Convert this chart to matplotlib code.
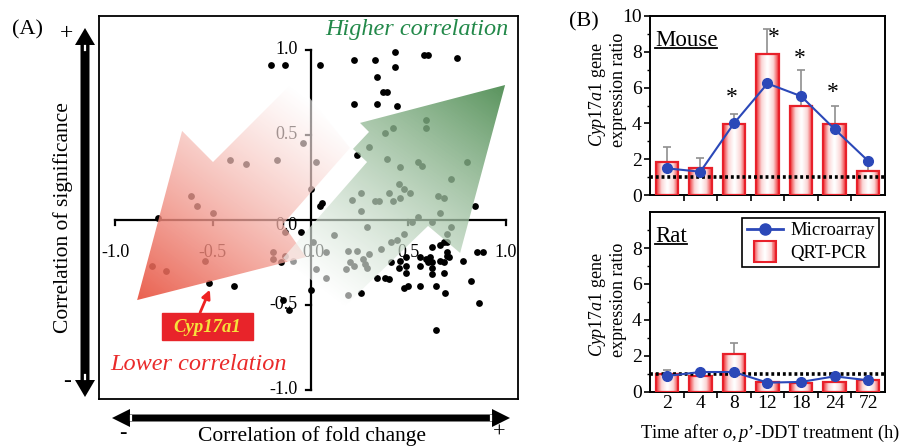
import numpy as np
import matplotlib
matplotlib.use('Agg')
import matplotlib.pyplot as plt
from matplotlib.colors import LinearSegmentedColormap, to_rgb
from matplotlib.patches import Polygon, Rectangle
from matplotlib.transforms import Affine2D, IdentityTransform
from matplotlib.legend_handler import HandlerBase
from matplotlib.lines import Line2D

plt.rcParams['font.family'] = ['Liberation Serif', 'DejaVu Serif']
plt.rcParams['mathtext.fontset'] = 'custom'
plt.rcParams['mathtext.rm'] = 'Liberation Serif'
plt.rcParams['mathtext.it'] = 'Liberation Serif:italic'

# ---- panel A data: correlation of fold change (x) vs correlation of significance (y)
fold_corr = [
    -0.20, -0.13, 0.05, 0.22, 0.33, 0.43, 0.43, 0.34, 0.58, 0.60, 0.75, 0.37, 0.39, 0.22, 0.34,
    0.44, 0.24, 0.00, 0.06, 0.05, 0.84, -0.78, -0.13, -0.15, -0.09, -0.52, -0.39, -0.14, -0.11,
    0.00, 0.26, 0.34, 0.38, 0.40, 0.46, 0.49, 0.45, 0.49, 0.49, 0.48, 0.50, 0.56, 0.56, 0.59,
    0.61, 0.60, 0.62, 0.62, 0.66, 0.68, 0.70, 0.66, 0.68, 0.70, 0.71, 0.78, 0.62, 0.68, 0.62,
    0.56, 0.64, 0.69, 0.82, 0.85, 0.88, 0.86, 0.64,
    -0.41, -0.33, -0.17, -0.04, 0.03, -0.61, -0.58, -0.50, -0.81, -0.74, -0.54, -0.19, -0.13,
    -0.19, -0.05, 0.59, 0.59, 0.42, 0.38, 0.30, 0.39, 0.46, 0.55, 0.57, 0.80, 0.72, 0.45, 0.48,
    0.51, 0.26, 0.40, 0.21, 0.33, 0.35, 0.42, 0.46, 0.65, 0.68, 0.26, 0.66, 0.55, 0.52, 0.62,
    0.72, 0.29, 0.48, 0.41, 0.44, 0.36, 0.30, 0.24, 0.19, 0.12, 0.08, 0.01, 0.20, 0.22, 0.27,
    0.28, 0.29, 0.18, 0.41, 0.03, 0.08, 0.19, 0.70, 0.70,
]
signif_corr = [
    0.91, 0.91, 0.91, 0.94, 0.94, 0.99, 0.90, 0.84, 0.97, 0.97, 0.95, 0.75, 0.75, 0.68, 0.68,
    0.67, 0.38, 0.18, 0.10, 0.08, 0.08, 0.01, -0.07, -0.25, -0.24, -0.37, -0.39, -0.47, -0.53,
    -0.41, -0.43, -0.34, -0.34, -0.35, -0.24, -0.22, -0.28, -0.27, -0.31, -0.40, -0.39, -0.27,
    -0.22, -0.23, -0.22, -0.25, -0.25, -0.16, -0.15, -0.13, -0.19, -0.24, -0.25, -0.21, -0.22,
    -0.24, -0.28, -0.31, -0.32, -0.39, -0.39, -0.43, -0.36, -0.19, -0.19, -0.49, -0.65,
    0.35, 0.33, 0.35, 0.45, 0.34, 0.14, 0.08, 0.04, -0.27, -0.30, -0.24, -0.19, -0.21, -0.23,
    -0.07, 0.59, 0.54, 0.54, 0.51, 0.43, 0.36, 0.31, 0.34, 0.32, 0.34, 0.24, 0.21, 0.18, 0.16,
    0.16, 0.16, 0.12, 0.11, 0.11, 0.11, 0.13, 0.14, 0.13, 0.05, 0.04, 0.02, -0.01, -0.01, -0.04,
    -0.04, -0.08, -0.13, -0.12, -0.17, -0.20, -0.18, -0.18, -0.09, -0.19, -0.13, -0.25, -0.27,
    -0.23, -0.26, -0.28, -0.29, -0.25, -0.29, -0.34, -0.44, -0.08, -0.13,
]
cyp17a1_point = (-0.52, -0.37)
axis_ticks = [-1.0, -0.5, 0.5, 1.0]

# ---- panel B data
times = ['2', '4', '8', '12', '18', '24', '72']
mouse_qpcr = [1.86, 1.49, 3.96, 7.86, 4.96, 3.94, 1.34]
mouse_qpcr_err = [0.83, 0.59, 0.56, 1.43, 2.00, 1.02, 0.45]
mouse_array = [1.49, 1.30, 4.00, 6.23, 5.52, 3.68, 1.90]
mouse_star_idx = [2, 3, 4, 5]
mouse_star_y = [5.45, 8.8, 7.65, 5.7]
rat_qpcr = [1.00, 0.89, 2.13, 0.56, 0.50, 0.56, 0.69]
rat_qpcr_err = [0.22, 0.04, 0.60, 0.03, 0.03, 0.03, 0.03]
rat_array = [0.89, 1.11, 1.11, 0.52, 0.56, 0.87, 0.65]
baseline_ratio = 1.0

W, H = 904, 446
fig = plt.figure(figsize=(W / 100, H / 100), dpi=100)
px = Affine2D().scale(1 / W, -1 / H).translate(0, 1) + fig.transFigure

# ================= panel A =================
axA = fig.add_axes([99 / W, 1 - 399 / H, 419 / W, 383 / H])
xlimA, ylimA = (-1.082, 1.061), (-1.053, 1.2)
axA.set_xlim(*xlimA)
axA.set_ylim(*ylimA)
axA.set_xticks([])
axA.set_yticks([])
for sp in axA.spines.values():
    sp.set_linewidth(1.3)

axA.plot([-1, 1], [0, 0], color='k', lw=1.6, zorder=1)
axA.plot([0, 0], [-1, 1], color='k', lw=1.6, zorder=1)
for t in axis_ticks:
    axA.plot([t, t], [0, -0.03], color='k', lw=1.6, zorder=1)
    axA.plot([0, -0.025], [t, t], color='k', lw=1.6, zorder=1)
    lab = '%.1f' % t
    axA.text(t, -0.19, lab, ha='center', va='center', fontsize=13, zorder=1)
    axA.text(-0.065, t, lab, ha='right', va='center', fontsize=13, zorder=1)
axA.text(0.015, -0.19, '0.0', ha='center', va='center', fontsize=13, zorder=1)
axA.text(-0.065, -0.03, '0.0', ha='right', va='center', fontsize=13, zorder=1)

axA.scatter(fold_corr, signif_corr, s=24, color='k', linewidths=0, zorder=2)

# translucent gradient arrows
gx = np.linspace(xlimA[0], xlimA[1], 500)
gy = np.linspace(ylimA[0], ylimA[1], 500)
GX, GY = np.meshgrid(gx, gy)


def gradient_arrow(verts, tail, tip, color):
    d = np.array(tip) - np.array(tail)
    t = ((GX - tail[0]) * d[0] + (GY - tail[1]) * d[1]) / (d @ d)
    t = np.clip(t, 0, 1)
    c = np.array(to_rgb(color))
    rgba = np.zeros(GX.shape + (4,))
    for k in range(3):
        rgba[..., k] = 1 - t * (1 - c[k])
    rgba[..., 3] = 0.6 + 0.32 * t
    poly = Polygon(verts, closed=True, facecolor='none', edgecolor='none',
                   transform=axA.transData)
    axA.add_patch(poly)
    im = axA.imshow(rgba, extent=(*xlimA, *ylimA), origin='lower', aspect='auto',
                    interpolation='bilinear', zorder=3)
    im.set_clip_path(poly)


red_arrow = [(-0.887, -0.471), (-0.657, 0.524), (-0.499, 0.341), (-0.079, 0.824),
             (0.202, 0.424), (-0.141, -0.024), (-0.023, -0.218)]
green_arrow = [(0.995, 0.794), (0.253, 0.571), (0.299, 0.518), (0.217, 0.418),
               (0.289, 0.341), (-0.141, -0.224), (0.176, -0.506), (0.601, -0.035),
               (0.765, -0.194)]
gradient_arrow(red_arrow, (0.06, 0.64), (-0.887, -0.471), '#e8523f')
gradient_arrow(green_arrow, (0.02, -0.37), (0.995, 0.794), '#4a8a4e')
axA.set_xlim(*xlimA)
axA.set_ylim(*ylimA)

fig.text(417, 29, 'Higher correlation', transform=px, ha='center', va='center',
         fontsize=17.5, style='italic', color='#23894a')
fig.text(199, 365, 'Lower correlation', transform=px, ha='center', va='center',
         fontsize=17.5, style='italic', color='#ea2a2a')

fig.add_artist(Rectangle((162, 313), 91, 27, transform=px, facecolor='#e8242a',
                         edgecolor='#e8242a', zorder=5))
fig.text(207.5, 327, 'Cyp17a1', transform=px, ha='center', va='center', fontsize=13.5,
         style='italic', weight='bold', color='#f6e23c', zorder=6)
axA.annotate('', xy=(cyp17a1_point[0] + 0.005, cyp17a1_point[1] - 0.04),
             xytext=(-0.565, -0.545),
             arrowprops=dict(arrowstyle='-|>,head_length=0.5,head_width=0.25',
                             color='#ee2222', lw=2, shrinkA=0, shrinkB=0), zorder=6)

# outer double arrows
v_arrow = [(85, 28), (95, 45), (89.5, 45), (89.5, 380), (95, 380), (85, 397), (75, 380),
           (80.5, 380), (80.5, 45), (75, 45)]
h_arrow = [(112, 418), (130, 409), (130, 414.5), (492, 414.5), (492, 409), (510, 418),
           (492, 427), (492, 421.5), (130, 421.5), (130, 427)]
fig.add_artist(Polygon(v_arrow, closed=True, transform=px, facecolor='k', edgecolor='none'))
fig.add_artist(Polygon(h_arrow, closed=True, transform=px, facecolor='k', edgecolor='none'))
for seg in [([85, 85], [46, 50]), ([85, 85], [375, 379])]:
    fig.add_artist(Line2D(*seg, transform=px, color='w', lw=1.6))
for seg in [([131, 131], [416, 420]), ([491, 491], [416, 420])]:
    fig.add_artist(Line2D(*seg, transform=px, color='w', lw=1.6))

fig.text(63, 218, 'Correlation of significance', transform=px, rotation=90,
         ha='center', va='center', fontsize=15.5)
fig.text(312, 436, 'Correlation of fold change', transform=px, ha='center',
         va='center', fontsize=15.5)
fig.text(67, 34, '+', transform=px, ha='center', va='center', fontsize=17)
fig.text(67, 382, '-', transform=px, ha='center', va='center', fontsize=17)
fig.text(123, 433, '-', transform=px, ha='center', va='center', fontsize=16)
fig.text(499, 433, '+', transform=px, ha='center', va='center', fontsize=16)
fig.text(28, 30, '(A)', transform=px, ha='center', va='center', fontsize=16)
fig.text(584, 22, '(B)', transform=px, ha='center', va='center', fontsize=16)

# ================= panel B =================
edge_red = '#e8202a'
bar_cmap = LinearSegmentedColormap.from_list(
    'bar', [(0, '#ffffff'), (0.45, '#fbd6d6'), (1, '#ee2a2e')])
line_blue = '#2b48b8'
bar_w = 0.67
xpos = np.arange(len(times))


def expression_panel(ax, qpcr, err, array, species, show_xlabels):
    grad = np.abs(np.linspace(-1, 1, 64)) ** 1.2
    for i, v in enumerate(qpcr):
        ax.imshow(grad[np.newaxis, :], extent=(i - bar_w / 2, i + bar_w / 2, 0, v),
                  cmap=bar_cmap, vmin=0, vmax=1, aspect='auto', zorder=2,
                  interpolation='bilinear')
    ax.bar(xpos, qpcr, width=bar_w, facecolor='none', edgecolor=edge_red, lw=1.6, zorder=3)
    ax.errorbar(xpos, qpcr, yerr=[np.zeros(len(err)), err], fmt='none', ecolor='#8f8f8f',
                elinewidth=1.2, capsize=3, capthick=1.2, zorder=1.5)
    ax.axhline(baseline_ratio, color='k', lw=2.6, ls=(0, (0.8, 0.8)), zorder=4)
    ax.plot(xpos, array, color=line_blue, lw=1.5, marker='o', ms=7, zorder=5)
    ax.set_xlim(-0.5, len(times) - 0.5)
    ax.set_ylim(0, 10)
    ax.set_xticks(xpos[:-1] + 0.5)
    ax.set_xticklabels([])
    ax.set_xticks(xpos, minor=True)
    ax.set_xticklabels(times if show_xlabels else [], minor=True, fontsize=14)
    ax.tick_params(axis='x', which='major', direction='out', length=4, width=1.2)
    ax.tick_params(axis='x', which='minor', length=0, pad=2)
    ax.set_yticks(np.arange(0, 11, 2))
    ax.set_yticks(np.arange(1, 10, 2), minor=True)
    ax.tick_params(axis='y', which='major', direction='out', length=4, width=1.2,
                   labelsize=14, pad=2)
    ax.tick_params(axis='y', which='minor', direction='out', length=2.5, width=1.0)
    for sp in ax.spines.values():
        sp.set_linewidth(1.4)
    return ax.text(0.021, 0.835, species, transform=ax.transAxes, ha='left',
                   va='baseline', fontsize=16.5)


ax_m = fig.add_axes([650 / W, 1 - 195 / H, 235 / W, 179 / H])
ax_r = fig.add_axes([650 / W, 1 - 392 / H, 235 / W, 180 / H])
t_mouse = expression_panel(ax_m, mouse_qpcr, mouse_qpcr_err, mouse_array, 'Mouse', False)
t_rat = expression_panel(ax_r, rat_qpcr, rat_qpcr_err, rat_array, 'Rat', True)
ax_r.set_yticks(np.arange(0, 9, 2))
ax_r.set_yticks(np.arange(1, 10, 2), minor=True)

for i, y in zip(mouse_star_idx, mouse_star_y):
    ax_m.text(i + (0.18 if i == 3 else -0.05), y, '*', ha='center', va='center',
              fontsize=17, zorder=6)

ylab = '$\\mathit{Cyp17a1}$ gene\nexpression ratio'
fig.text(607, 90, ylab, transform=px, rotation=90, ha='center', va='center',
         multialignment='left', fontsize=13, linespacing=1.1)
fig.text(607, 300, ylab, transform=px, rotation=90, ha='center', va='center',
         multialignment='left', fontsize=13, linespacing=1.1)
fig.text(770, 433, 'Time after $\\mathit{o,p}$\u2019-DDT treatment (h)', transform=px,
         ha='center', va='center', fontsize=13.3)


class GradientBarHandler(HandlerBase):
    def create_artists(self, legend, orig_handle, xdescent, ydescent, width, height,
                       fontsize, trans):
        h = height * 1.65
        w = h * 1.05
        x0 = -xdescent + (width - w) / 2
        y0 = -ydescent + (height - h) / 2
        n = 24
        arts = []
        for k in range(n):
            t = abs((k + 0.5) / n * 2 - 1) ** 1.2
            arts.append(Rectangle((x0 + k * w / n, y0), w / n * 1.1, h,
                                  facecolor=bar_cmap(t), edgecolor='none', transform=trans))
        arts.append(Rectangle((x0, y0), w, h, facecolor='none', edgecolor=edge_red,
                              lw=1.5, transform=trans))
        return arts


line_handle = Line2D([], [], color=line_blue, lw=2, marker='o', ms=8)
bar_handle = Rectangle((0, 0), 1, 1)
leg = ax_r.legend([line_handle, bar_handle], ['Microarray', 'QRT-PCR'], loc='upper right',
                  fontsize=13.5, fancybox=False, edgecolor='k', framealpha=1,
                  handlelength=1.9, borderpad=0.25, labelspacing=0.3, handletextpad=0.4,
                  borderaxespad=0.3, handler_map={bar_handle: GradientBarHandler()})
leg.get_frame().set_linewidth(1.2)
leg.set_zorder(10)

# underline the species names
fig.canvas.draw()
for ax, t in [(ax_m, t_mouse), (ax_r, t_rat)]:
    bb = t.get_window_extent()
    yb = ax.transAxes.transform((0, 0.835))[1] - 2.5
    fig.add_artist(Line2D([bb.x0, bb.x1], [yb, yb], transform=IdentityTransform(),
                          color='k', lw=1.3))

fig.savefig('out.png', dpi=100)
